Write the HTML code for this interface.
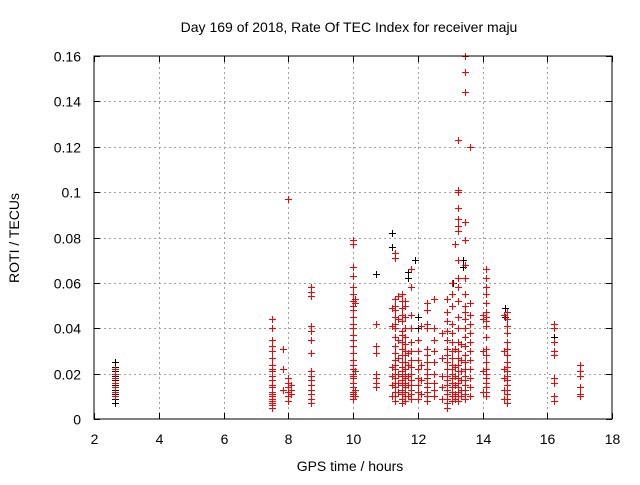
<!DOCTYPE html>
<html><head><meta charset="utf-8"><style>
body{margin:0;background:#fff;}
svg text{font-family:"Liberation Sans",sans-serif;font-size:14px;fill:#000;}
</style></head><body>
<svg id="chart" width="640" height="480" xmlns="http://www.w3.org/2000/svg">
<rect width="640" height="480" fill="#fff"/>
<text x="349" y="32" text-anchor="middle">Day 169 of 2018, Rate Of TEC Index for receiver maju</text>
<text x="350" y="471" text-anchor="middle">GPS time / hours</text>
<text transform="translate(19,238) rotate(-90)" text-anchor="middle">ROTI / TECUs</text>
<g id="grid"></g>
<g id="ticks"></g>
<g id="black"></g>
<g id="red"></g>
<rect x="94" y="56" width="518" height="363" fill="none" stroke="#000" stroke-width="1"/>
</svg>
<script>
const xTicks=[2,4,6,8,10,12,14,16,18];
const yTicks=[0,0.02,0.04,0.06,0.08,0.1,0.12,0.14,0.16];
const yTickLabels=["0","0.02","0.04","0.06","0.08","0.1","0.12","0.14","0.16"];
const redCols=[
[2.65,[0.010,0.012,0.014,0.016,0.018,0.020,0.022]],
[7.5,[0.005,0.006,0.007,0.008,0.009,0.010,0.011,0.012,0.014,0.015,0.017,0.019,0.021,0.022,0.024,0.027,0.030,0.032,0.035,0.040,0.044]],
[7.85,[0.013,0.022,0.031]],
[8.0,[0.008,0.010,0.012,0.014,0.016,0.018,0.097]],
[8.1,[0.011,0.013,0.015]],
[8.7,[0.007,0.009,0.011,0.013,0.015,0.017,0.019,0.021,0.029,0.035,0.039,0.041,0.054,0.056,0.058]],
[10.0,[0.009,0.010,0.011,0.012,0.014,0.016,0.018,0.019,0.020,0.022,0.024,0.026,0.029,0.032,0.035,0.037,0.040,0.042,0.045,0.048,0.050,0.052,0.055,0.058,0.063,0.067,0.077,0.079]],
[10.05,[0.010,0.013,0.021,0.051,0.053]],
[10.7,[0.014,0.016,0.018,0.020,0.029,0.032,0.042]],
[11.2,[0.010,0.015,0.019,0.023,0.041,0.049]],
[11.3,[0.008,0.010,0.012,0.014,0.016,0.018,0.020,0.022,0.024,0.026,0.029,0.032,0.036,0.040,0.042,0.045,0.048,0.050,0.053,0.071,0.073]],
[11.4,[0.012,0.016,0.020,0.027,0.035,0.044,0.054]],
[11.5,[0.007,0.009,0.011,0.013,0.015,0.017,0.019,0.021,0.023,0.025,0.028,0.031,0.034,0.037,0.039,0.043,0.046,0.049,0.052,0.055]],
[11.6,[0.008,0.010,0.012,0.014,0.016,0.018,0.020,0.022,0.025,0.028,0.030,0.033,0.036,0.040,0.045,0.050,0.052]],
[11.7,[0.010,0.015,0.019,0.024,0.029]],
[11.8,[0.009,0.011,0.013,0.015,0.017,0.020,0.023,0.026,0.030,0.034,0.040,0.046,0.058,0.066]],
[12.0,[0.009,0.012,0.015,0.018,0.022,0.026,0.030,0.035]],
[12.1,[0.011,0.017,0.024,0.041]],
[12.3,[0.008,0.010,0.012,0.014,0.016,0.018,0.020,0.022,0.025,0.028,0.031,0.040,0.042,0.048,0.051]],
[12.5,[0.010,0.013,0.016,0.020,0.025,0.030,0.035,0.040,0.053]],
[12.75,[0.009,0.014,0.019,0.027,0.038]],
[12.9,[0.005,0.007,0.009,0.011,0.013,0.015,0.017,0.019,0.022,0.025,0.028,0.031,0.035,0.039,0.043,0.047,0.053]],
[13.05,[0.008,0.010,0.012,0.014,0.016,0.018,0.020,0.022,0.024,0.027,0.030,0.034,0.038,0.042,0.050,0.055,0.060]],
[13.15,[0.009,0.011,0.015,0.019,0.023,0.031,0.077]],
[13.25,[0.008,0.010,0.012,0.014,0.016,0.018,0.021,0.024,0.027,0.030,0.034,0.040,0.045,0.052,0.058,0.062,0.070,0.083,0.085,0.088,0.093,0.100,0.101,0.123]],
[13.35,[0.010,0.013,0.017,0.021,0.026,0.033]],
[13.45,[0.009,0.011,0.013,0.015,0.017,0.019,0.022,0.025,0.028,0.032,0.036,0.040,0.044,0.047,0.050,0.055,0.062,0.068,0.079,0.087,0.144,0.153,0.160]],
[13.6,[0.010,0.014,0.018,0.022,0.026,0.030,0.034,0.038,0.042,0.046,0.051,0.120]],
[14.0,[0.012,0.021,0.030,0.044,0.046]],
[14.1,[0.010,0.012,0.014,0.016,0.018,0.020,0.022,0.025,0.028,0.031,0.036,0.041,0.043,0.045,0.047,0.051,0.055,0.058,0.062,0.066]],
[14.65,[0.009,0.013,0.018,0.022,0.030,0.046]],
[14.75,[0.007,0.009,0.011,0.013,0.015,0.017,0.019,0.021,0.023,0.025,0.028,0.031,0.034,0.038,0.041,0.044,0.047]],
[16.2,[0.008,0.010,0.016,0.018,0.028,0.030,0.034,0.040,0.042]],
[17.0,[0.010,0.011,0.014,0.019,0.021,0.024]]
];
const blackCols=[
[2.65,[0.007,0.009,0.011,0.013,0.015,0.017,0.019,0.021,0.023,0.025]],
[10.7,[0.064]],
[11.2,[0.076,0.082]],
[11.7,[0.062,0.065]],
[11.9,[0.070]],
[13.1,[0.060]],
[13.4,[0.070,0.067]],
[14.7,[0.049,0.045]],
[16.2,[0.036]],
[12.0,[0.040,0.045]]
];
const X0=94,X1=612,Y0=419,Y1=56;
function sx(v){return X0+(v-2)/16*(X1-X0);}
function sy(v){return Y0-v/0.16*(Y0-Y1);}
const NS="http://www.w3.org/2000/svg";
const grid=document.getElementById('grid'),ticks=document.getElementById('ticks');
function line(g,x1,y1,x2,y2,st,dash){const l=document.createElementNS(NS,'line');l.setAttribute('x1',x1);l.setAttribute('y1',y1);l.setAttribute('x2',x2);l.setAttribute('y2',y2);l.setAttribute('stroke',st);if(dash)l.setAttribute('stroke-dasharray',dash);g.appendChild(l);return l;}
xTicks.forEach(t=>{const x=Math.round(sx(t))+0.5;
 if(t>2&&t<18){const g=line(grid,x,Y0,x,Y1,'#a0a0a0','2,3');}
 line(ticks,x,Y0,x,Y0-6,'#000');line(ticks,x,Y1,x,Y1+6,'#000');
 const tx=document.createElementNS(NS,'text');tx.setAttribute('x',x);tx.setAttribute('y',Y0+25);tx.setAttribute('text-anchor','middle');tx.textContent=t;
 
 
 ticks.appendChild(tx);});
yTicks.forEach((t,i)=>{const y=Math.round(sy(t))+0.5;
 if(t>0&&t<0.16){const g=line(grid,X0,y,X1,y,'#a0a0a0','2,3');}
 line(ticks,X0,y,X0+6,y,'#000');line(ticks,X1,y,X1-6,y,'#000');
 const tx=document.createElementNS(NS,'text');tx.setAttribute('x',X0-13);tx.setAttribute('y',y+5);tx.setAttribute('text-anchor','end');tx.textContent=yTickLabels[i];
 
 
 ticks.appendChild(tx);});
function plot(cols,gid,color,name){const g=document.getElementById(gid);let d='';
 cols.forEach(c=>c[1].forEach(v=>{const x=Math.round(sx(c[0]))+0.5,y=Math.round(sy(v))+0.5;d+=`M${x-3.5} ${y}H${x+3.5}M${x} ${y-3.5}V${y+3.5}`;}));
 const p=document.createElementNS(NS,'path');p.setAttribute('d',d);p.setAttribute('stroke',color);p.setAttribute('fill','none');
 
 
 g.appendChild(p);}
plot(blackCols,'black','#000','black-points');
plot(redCols,'red','#ff0000','red-points');
</script>
</body></html>
